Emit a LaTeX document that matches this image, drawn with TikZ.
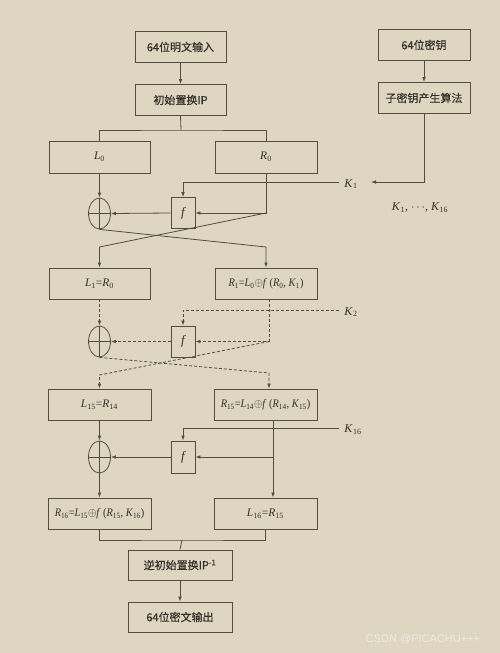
\documentclass[tikz,border=0pt]{standalone}
\usepackage{fontspec}
\setmainfont{Liberation Serif}
\newfontfamily\cjk[FakeBold=0.4]{Noto Sans CJK SC}
\newfontfamily\wmfont{Liberation Sans}
\usetikzlibrary{arrows.meta,shapes.geometric}
\definecolor{bg}{RGB}{222,214,193}
\definecolor{ln}{RGB}{82,76,66}
\definecolor{txt}{RGB}{52,48,42}
\definecolor{wm}{RGB}{238,235,226}
\newcommand\vv[2]{\textit{#1}\textsubscript{#2}}
\newcommand\xo{\ensuremath{\oplus}}
\newcommand\cond[1]{\scalebox{0.9}[1]{#1}}
\begin{document}
\begin{tikzpicture}[x=1pt,y=-1pt,
  every node/.style={text=txt},
  box/.style={draw=ln, line width=0.8pt, fill=bg, inner sep=0pt, minimum height=31pt},
  cn/.style={font=\cjk\fontsize{11}{13}\selectfont},
  mt/.style={font=\fontsize{11.5}{13}\selectfont},
  xorn/.style={ellipse, draw=ln, line width=0.8pt, minimum width=22pt, minimum height=31pt, inner sep=0pt,
    path picture={\draw[ln, line width=0.8pt] (path picture bounding box.north) -- (path picture bounding box.south)
      (path picture bounding box.west) -- (path picture bounding box.east);}},
  fbox/.style={draw=ln, line width=0.8pt, minimum width=24pt, minimum height=31pt, inner sep=0pt, font=\fontsize{13}{14}\selectfont\itshape},
  klab/.style={font=\fontsize{12}{14}\selectfont, inner sep=0pt},
  con/.style={draw=ln, line width=0.8pt},
  arr/.style={con, -{Latex[length=5pt,width=3.6pt]}},
  dsh/.style={dash pattern=on 3pt off 2pt}
]
\fill[bg] (0,0) rectangle (500,653);
\useasboundingbox (0,0) rectangle (500,653);

% top boxes
\node[box, cn, minimum width=91pt] (in) at (180.5,47) {64位明文输入};
\node[box, cn, minimum width=91pt] (ip) at (180.5,100) {初始置换IP};
\node[box, cn, minimum width=92pt] (key) at (424,45) {64位密钥};
\node[box, cn, minimum width=92pt] (kgen) at (424,98) {子密钥产生算法};

% round 1
\node[box, mt, minimum width=101pt, minimum height=32pt] (L0) at (99.5,157) {\vv{L}{0}};
\node[box, mt, minimum width=102pt, minimum height=32pt] (R0) at (266,157) {\vv{R}{0}};
\node[xorn] (x1) at (99.5,213.5) {};
\node[fbox] (f1) at (183,213) {f};
\node[klab] (K1) at (351,184) {\vv{K}{1}};
\node[klab] (Kall) at (420,208) {\vv{K}{1}, $\cdots$, \vv{K}{16}};
\coordinate (k1tip) at (371,182);
\coordinate (ipj) at (181,130);

% round 2
\node[box, mt, minimum width=101pt] (L1) at (99.5,283.5) {\vv{L}{1}=\vv{R}{0}};
\node[box, mt, minimum width=102pt] (R1) at (266,283.5) {\cond{\vv{R}{1}=\vv{L}{0}\xo\textit{f}\ (\vv{R}{0}, \vv{K}{1})}};
\node[xorn] (x2) at (99.5,341.5) {};
\node[fbox] (f2) at (183,341.5) {f};
\node[klab] (K2) at (351,312) {\vv{K}{2}};

% round 16
\node[box, mt, minimum width=103pt] (L15) at (99.5,404.5) {\vv{L}{15}=\vv{R}{14}};
\node[box, mt, minimum width=103pt] (R15) at (265.5,404.5) {\cond{\vv{R}{15}=\vv{L}{14}\xo\textit{f}\ (\vv{R}{14}, \vv{K}{15})}};
\node[xorn, minimum height=32pt] (x3) at (99.5,457) {};
\node[fbox, minimum height=32pt] (f3) at (183,457) {f};
\node[klab] (K16) at (353,430) {\vv{K}{16}};

\node[box, mt, minimum width=103pt] (R16) at (99.5,513.5) {\cond{\vv{R}{16}=\vv{L}{15}\xo\textit{f}\ (\vv{R}{15}, \vv{K}{16})}};
\node[box, mt, minimum width=103pt] (L16) at (265.5,513.5) {\vv{L}{16}=\vv{R}{15}};
\node[box, cn, minimum width=104pt, minimum height=30pt] (ipinv) at (180,565) {逆初始置换IP\textsuperscript{-1}};
\node[box, cn, minimum width=104pt, minimum height=30pt] (out) at (180,617) {64位密文输出};

\node[font=\wmfont\fontsize{11}{13}\selectfont, text=wm] (wmk) at (423,639) {CSDN @PICACHU+++};

% top connectors
\draw[arr] (in.south) -- (ip.north);
\draw[arr] (key.south) -- (kgen.north);
\draw[con] (ip.south) -- (ipj);
\draw[con] (L0.north) |- (ipj) -| (R0.north);
\draw[arr] (kgen.south) |- (k1tip);

% round 1 connectors
\coordinate (r0c) at (R0.south |- f1.east);
\draw[arr] ([xshift=-5pt]K1.west |- 0,182) -| (f1.north);
\draw[arr] (L0.south) -- (x1.north);
\draw[arr] (R0.south) -- (r0c) -- (f1.east);
\draw[arr] (f1.west) -- (x1.east);
\draw[arr] (r0c) -- (99.5,247) -- (L1.north);
\draw[arr] (x1.south) -- (266,247) -- (R1.north);

% round 2 connectors (dashed)
\coordinate (r1b) at ([xshift=3pt]R1.south);
\coordinate (r1c) at (r1b |- f2.east);
\draw[arr, dsh] ([xshift=-5pt]K2.west |- 0,310) -| (f2.north);
\draw[arr, dsh] (L1.south) -- (x2.north);
\draw[arr, dsh] (r1b) -- (r1c) -- (f2.east);
\draw[arr, dsh] (f2.west) -- (x2.east);
\draw[arr, dsh] (r1c) -- (99.5,375) -- (L15.north);
\draw[arr, dsh] (x2.south) -- (269,373) -- ([xshift=3.5pt]R15.north);

% round 16 connectors
\coordinate (r15b) at ([xshift=7.5pt]R15.south);
\coordinate (r15c) at (r15b |- f3.east);
\draw[arr] ([xshift=-5pt]K16.west |- 0,428) -| (f3.north);
\draw[arr] (L15.south) -- (x3.north);
\draw[arr] (r15b) -- ([xshift=7.5pt]L16.north);
\draw[arr] (r15c) -- (f3.east);
\draw[arr] (f3.west) -- (x3.east);
\draw[arr] (x3.south) -- (R16.north);

% final
\coordinate (fj) at (182,540);
\draw[con] (R16.south) |- (fj) -| (L16.south);
\draw[con] (fj) -- (ipinv.north);
\draw[arr] (ipinv.south) -- (out.north);
\end{tikzpicture}
\end{document}
